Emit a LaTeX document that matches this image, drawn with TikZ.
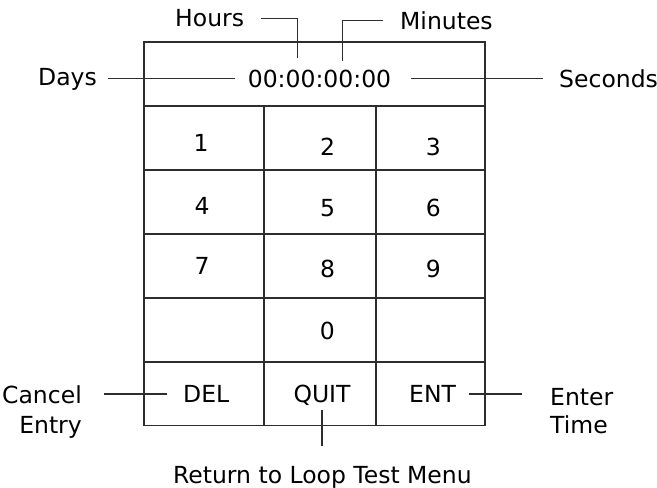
\documentclass[tikz,border=0pt]{standalone}
\usepackage{fontspec}
\setmainfont{DejaVu Sans}
\usepackage{tikz}
\usetikzlibrary{positioning}
\usepackage{xcolor}
\definecolor{kpgray}{RGB}{45,45,45}
\tikzstyle{frame} = [line width=1.9pt, color=kpgray]
\tikzstyle{lead} = [line width=1.4pt, color=kpgray]
\tikzstyle{lbl} = [inner sep=0pt, font=\fontsize{23.5}{28}\selectfont]

\begin{document}
\begin{tikzpicture}[x=1pt, y=-1pt]
\useasboundingbox (0,0) rectangle (657,488);
% Keypad frame
\draw[frame] (144,42) rectangle (485,425.5);
\foreach \y in {106,170,234,298,362}
  \draw[frame] (144,\y) -- (485,\y);
\foreach \x in {264,376}
  \draw[frame] (\x,106) -- (\x,425.5);

% Display
\node[lbl, anchor=base] (disp) at (319.5,87.3) {00:00:00:00};
\node[lbl, anchor=base west] (hours) at (175,26.7) {Hours};
\node[lbl, anchor=base west] (minutes) at (400,29.3) {Minutes};
\node[lbl, anchor=base west] (days) at (38,85) {Days};
\node[lbl, anchor=base west] (seconds) at (559,87.3) {Seconds};
\coordinate (hrsend) at (297.7,58);
\coordinate (minend) at (342.3,61);

\draw[lead, shorten <=17pt] (hours.east) -| (hrsend);
\draw[lead, shorten <=17pt] (minutes.west) -| (minend);
\draw[lead, shorten <=10.6pt, shorten >=13pt] (days.east |- disp.west) -- (disp.west);
\draw[lead, shorten <=19.7pt, shorten >=16.3pt] (disp.east) -- (disp.east -| seconds.west);

% Keys
\node[lbl, anchor=base] (k1) at (201,151) {1};
\node[lbl, anchor=base] (k2) at (327.7,155) {2};
\node[lbl, anchor=base] (k3) at (433.3,155) {3};
\node[lbl, anchor=base] (k4) at (202,214) {4};
\node[lbl, anchor=base] (k5) at (327.7,216.7) {5};
\node[lbl, anchor=base] (k6) at (433.3,216.7) {6};
\node[lbl, anchor=base] (k7) at (202,274.3) {7};
\node[lbl, anchor=base] (k8) at (327.7,277.7) {8};
\node[lbl, anchor=base] (k9) at (433.3,277.7) {9};
\node[lbl, anchor=base] (k0) at (327.3,339.3) {0};
\node[lbl, anchor=base west] (del) at (183,402.7) {DEL};
\node[lbl, anchor=base] (quit) at (322,402.7) {QUIT};
\node[lbl, anchor=base west] (ent) at (409,402.7) {ENT};

% Key labels
\node[lbl, anchor=base east] (cancel) at (82,403.3) {Cancel};
\node[lbl, anchor=base east] (entry) at (82,433.3) {Entry};
\node[lbl, anchor=base west] (enter) at (550,405.7) {Enter};
\node[lbl, anchor=base west] (time) at (550,433.3) {Time};
\node[lbl, anchor=base] (ret) at (322.4,483.3) {Return to Loop Test Menu};

\draw[lead, shorten <=16pt, shorten >=22pt] (del.west) -- (del.west -| cancel.east);
\draw[lead, shorten <=12.7pt, shorten >=27.7pt] (ent.east) -- (ent.east -| enter.west);
\draw[lead, shorten <=7.3pt, shorten >=20pt] (quit.base) -- (quit.base |- ret.north);
\end{tikzpicture}
\end{document}
